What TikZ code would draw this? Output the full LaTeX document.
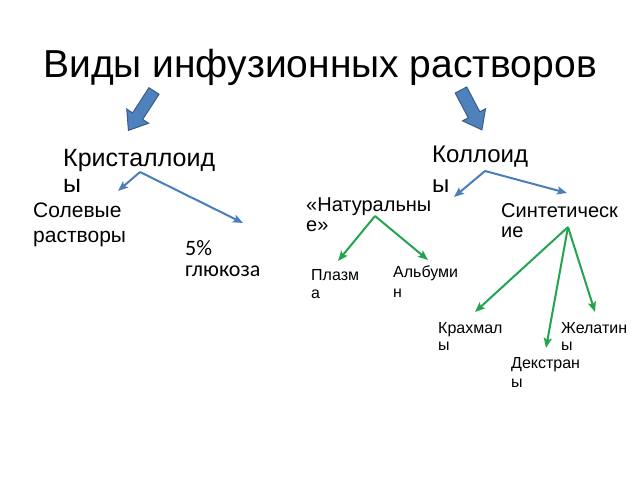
\documentclass[tikz,border=0pt]{standalone}
\usepackage{fontspec}
\setmainfont{Liberation Sans}
\newfontfamily\calfont{Carlito}
\usetikzlibrary{arrows.meta}
\definecolor{accblue}{HTML}{4F81BD}
\definecolor{accblueline}{HTML}{385D8A}
\definecolor{conblue}{HTML}{4A7EBB}
\definecolor{congreen}{RGB}{35,165,80}
\newcommand{\twol}[2]{\vtop{\hbox{#1}\hbox{#2}}}
\tikzset{
  lbl/.style={inner sep=0pt, anchor=base west, text=black},
  blockarrow/.style={fill=accblue, draw=accblueline, line width=1pt, line join=miter},
  bluecon/.style={draw=conblue, line width=2pt, -{Stealth[length=10pt,width=8pt,inset=2pt]}},
  greencon/.style={draw=congreen, line width=2pt, -{Stealth[length=10pt,width=8pt,inset=2pt]}},
}
\begin{document}
\begin{tikzpicture}[x=1pt,y=-1pt]
\useasboundingbox (0,0) rectangle (640,480);
\fill[white] (0,0) rectangle (640,480);

% title
\node[inner sep=0pt, anchor=base, font=\fontsize{39}{47}\selectfont] (title) at (320,77) {Виды инфузионных растворов};

% block arrows
\draw[blockarrow, shift={(154,91)}, rotate=237]
  (0,-6) -- (30,-6) -- (30,-13) -- (47,0) -- (30,13) -- (30,6) -- (0,6) -- cycle;
\draw[blockarrow, shift={(461,90)}, rotate=-62.3]
  (0,-6.5) -- (28,-6.5) -- (28,-13) -- (45,0) -- (28,13) -- (28,6.5) -- (0,6.5) -- cycle;

% level 1
\node[lbl, font=\fontsize{25}{26}\selectfont] (kris) at (63,166) {\twol{Кристаллоид}{ы}};
\node[lbl, font=\fontsize{24}{30}\selectfont] (koll) at (432,162) {\twol{Коллоид}{ы}};

% level 2
\node[lbl, font=\fontsize{21}{25}\selectfont] (sol) at (33,217) {\twol{Солевые}{растворы}};
\node[lbl, font=\calfont\fontsize{22}{21}\selectfont] (glu) at (185,255) {\twol{5\%}{глюкоза}};
\node[lbl, font=\fontsize{20}{20}\selectfont] (nat) at (306,211) {\twol{«Натуральны}{е»}};
\node[lbl, font=\fontsize{20}{20}\selectfont] (syn) at (501,217) {\twol{Синтетическ}{ие}};

% level 3
\node[lbl, font=\fontsize{16}{18}\selectfont] (pla) at (311,280) {\twol{Плазм}{а}};
\node[lbl, font=\fontsize{16}{20}\selectfont] (alb) at (393,277) {\twol{Альбуми}{н}};
\node[lbl, font=\fontsize{16}{17}\selectfont] (kra) at (438,333) {\twol{Крахмал}{ы}};
\node[lbl, font=\fontsize{16}{17}\selectfont] (zhe) at (561,333) {\twol{Желатин}{ы}};
\node[lbl, font=\fontsize{16}{19}\selectfont] (dek) at (511,368) {\twol{Декстран}{ы}};

% connector coordinates
\coordinate (krisA) at (140,172);
\coordinate (solT) at (118,191);
\coordinate (gluT) at (243,223);
\coordinate (kollA) at (485,171);
\coordinate (natT) at (454,197);
\coordinate (synT) at (567,193);
\coordinate (natA) at (375,216);
\coordinate (plaT) at (338,261);
\coordinate (albT) at (428,260);
\coordinate (synA) at (568,227);
\coordinate (kraT) at (475,312);
\coordinate (dekT) at (546,348);
\coordinate (zheT) at (595,312);

\draw[bluecon] (krisA) -- (solT);
\draw[bluecon] (krisA) -- (gluT);
\draw[bluecon] (kollA) -- (natT);
\draw[bluecon] (kollA) -- (synT);
\draw[greencon] (natA) -- (plaT);
\draw[greencon] (natA) -- (albT);
\draw[greencon] (synA) -- (kraT);
\draw[greencon] (synA) -- (dekT);
\draw[greencon] (synA) -- (zheT);
\end{tikzpicture}
\end{document}
